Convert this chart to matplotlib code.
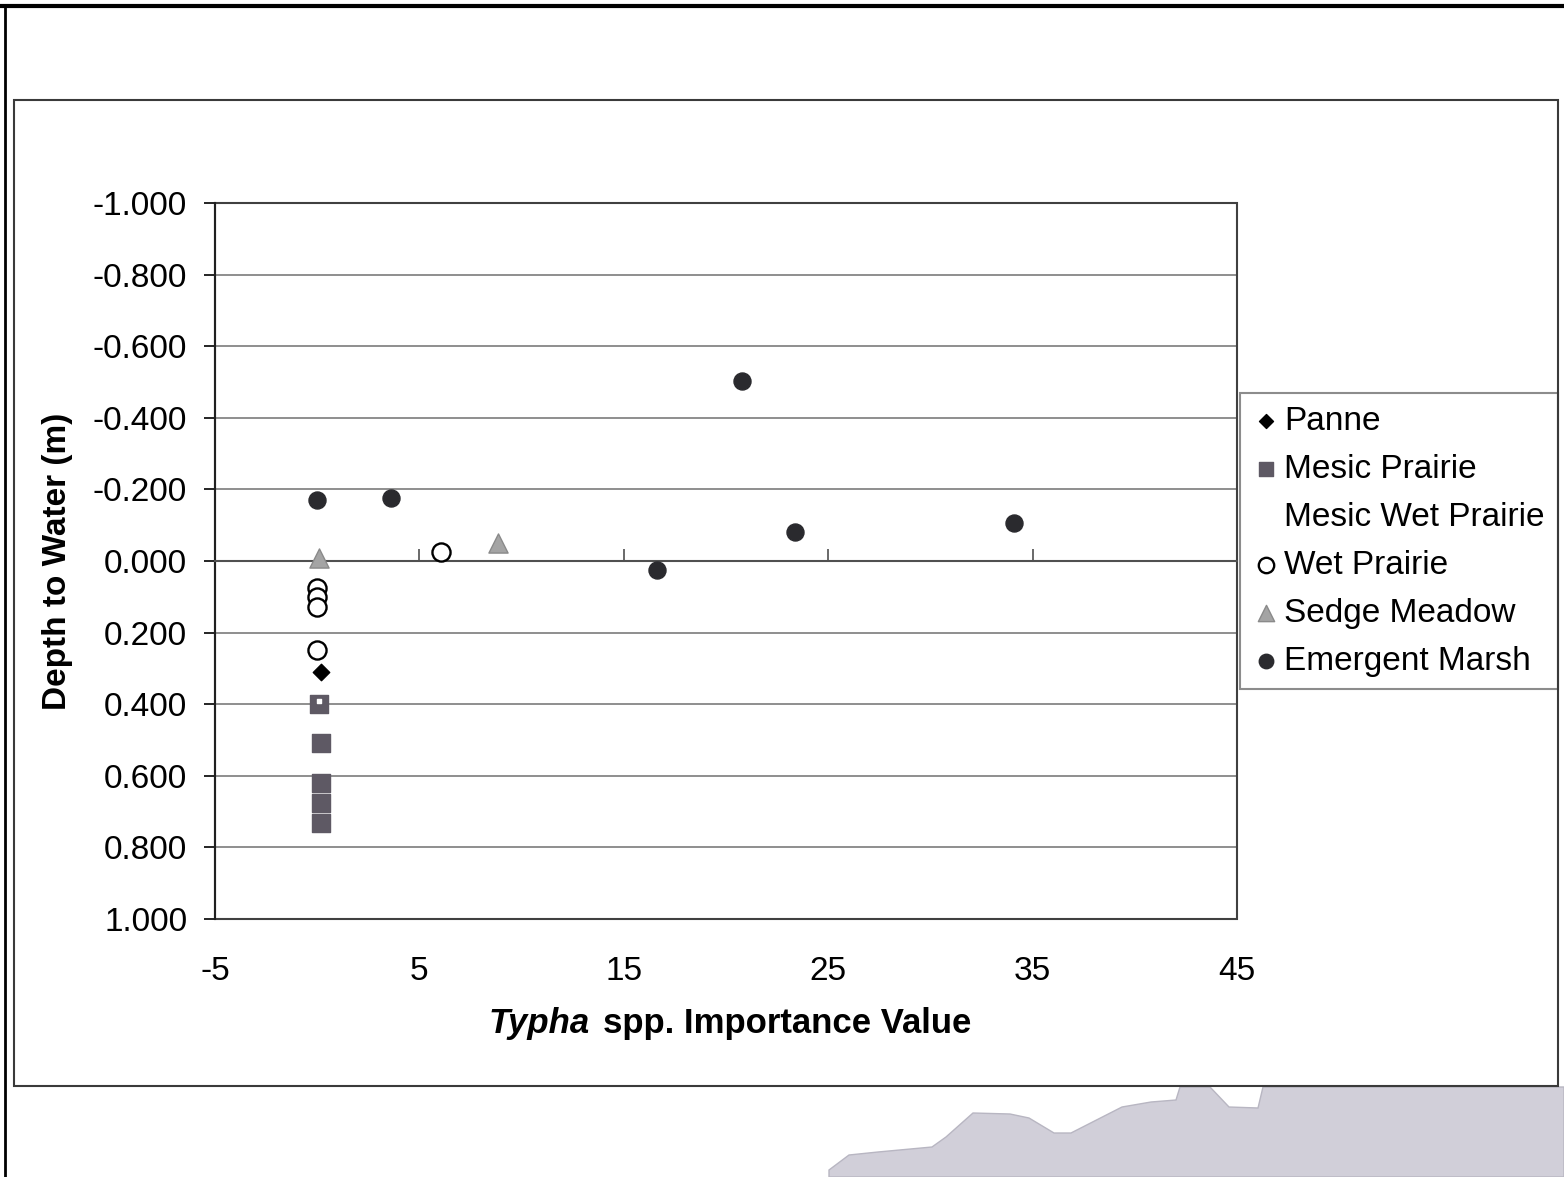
import matplotlib
matplotlib.use("Agg")
import matplotlib.pyplot as plt
from matplotlib.patches import Rectangle, Polygon
from matplotlib.lines import Line2D
from matplotlib.ticker import FuncFormatter, FixedLocator

plt.rcParams['font.family'] = ['Liberation Sans', 'DejaVu Sans']
plt.rcParams['axes.unicode_minus'] = False

# ---- data ----
panne_x = [0.2]
panne_y = [0.310]
mesic_x = [0.1, 0.2, 0.2, 0.2, 0.2]
mesic_y = [0.400, 0.508, 0.620, 0.676, 0.732]
mesic_wet_x = [0.1]
mesic_wet_y = [0.392]
wet_x = [0.0, 0.0, 0.0, 0.0, 6.06]
wet_y = [0.076, 0.101, 0.128, 0.249, -0.025]
sedge_x = [0.1, 8.85]
sedge_y = [-0.008, -0.050]
marsh_x = [0.0, 3.6, 20.8, 16.6, 23.4, 34.1]
marsh_y = [-0.170, -0.176, -0.503, 0.025, -0.081, -0.106]

x_ticks = [-5, 5, 15, 25, 35, 45]
y_ticks = [-1.0, -0.8, -0.6, -0.4, -0.2, 0.0, 0.2, 0.4, 0.6, 0.8, 1.0]

W, H = 1564, 1177
fig = plt.figure(figsize=(W / 100, H / 100), dpi=100)

def fx(px):
    return px / W

def fy(py):
    return 1 - py / H

# scan artifact at bottom right
art = [(829, 1177), (829, 1170), (849, 1155), (878, 1152), (932, 1147), (946, 1137),
       (973, 1113), (1010, 1114), (1029, 1118), (1054, 1133), (1071, 1133),
       (1122, 1107), (1151, 1102), (1176, 1100), (1180, 1087), (1210, 1087),
       (1229, 1107), (1258, 1108), (1263, 1087), (1564, 1087), (1564, 1177)]
fig.add_artist(Polygon([(fx(a), fy(b)) for a, b in art], closed=True,
                       facecolor='#d1cfd9', edgecolor='#b8b6c2', lw=1,
                       transform=fig.transFigure, zorder=0))

# outer frame lines
fig.add_artist(Line2D([0, 1], [fy(6), fy(6)], color='black', lw=3, transform=fig.transFigure))
fig.add_artist(Line2D([fx(5), fx(5)], [fy(6), 0], color='black', lw=2, transform=fig.transFigure))
# inner chart box
fig.add_artist(Rectangle((fx(14), fy(1086)), fx(1558) - fx(14), fy(100) - fy(1086),
                         fill=False, edgecolor='#3a3a3a', lw=1.5, transform=fig.transFigure))

ax = fig.add_axes([fx(215), fy(919), fx(1237) - fx(215), fy(203) - fy(919)])
ax.set_xlim(-5, 45)
ax.set_ylim(1.0, -1.0)

ax.yaxis.set_major_locator(FixedLocator(y_ticks))
ax.yaxis.set_major_formatter(FuncFormatter(lambda v, p: '{:.3f}'.format(v) if abs(v) > 1e-9 else '0.000'))
ax.tick_params(axis='y', direction='out', length=8, width=1.2, pad=12, labelsize=24, colors='black')
ax.grid(axis='y', color='#8e8e8e', lw=1.4)
ax.set_axisbelow(True)

for s in ['top', 'right']:
    ax.spines[s].set_visible(False)
ax.spines['left'].set_color('#202020')
ax.spines['left'].set_linewidth(1.5)
ax.spines['bottom'].set_position(('data', 0))
ax.spines['bottom'].set_color('#505050')
ax.spines['bottom'].set_linewidth(1.5)
ax.xaxis.set_major_locator(FixedLocator(x_ticks))
ax.tick_params(axis='x', direction='in', length=9, width=1.2, labelbottom=False, colors='#505050')

ax.add_patch(Rectangle((0, 0), 1, 1, transform=ax.transAxes, fill=False,
                       edgecolor='#404040', lw=1.5, clip_on=False, zorder=1))

# x tick labels at bottom
ax2 = ax.twiny()
ax2.set_xlim(-5, 45)
ax2.xaxis.set_ticks_position('bottom')
ax2.xaxis.set_major_locator(FixedLocator(x_ticks))
ax2.xaxis.set_major_formatter(FuncFormatter(lambda v, p: '{:d}'.format(int(round(v)))))
ax2.tick_params(axis='x', length=0, pad=27, labelsize=24)
for s in ax2.spines.values():
    s.set_visible(False)

ax.scatter(panne_x, panne_y, marker='D', s=70, color='black', zorder=3, label='Panne')
ax.scatter(mesic_x, mesic_y, marker='s', s=150, color='#5e5964', zorder=3, label='Mesic Prairie')
ax.scatter(mesic_wet_x, mesic_wet_y, marker='s', s=12, color='white', zorder=3, label='Mesic Wet Prairie')
ax.scatter(wet_x, wet_y, marker='o', s=170, facecolor='white', edgecolor='black', lw=1.7, zorder=3, label='Wet Prairie')
ax.scatter(sedge_x, sedge_y, marker='^', s=190, color='#a4a4a4', edgecolor='#8a8a8a', zorder=3, label='Sedge Meadow')
ax.scatter(marsh_x, marsh_y, marker='o', s=150, color='#2a2a2e', zorder=4, label='Emergent Marsh')

leg = ax.legend(loc='upper left', bbox_to_anchor=(fx(1240), fy(393)),
                bbox_transform=fig.transFigure, fontsize=24, frameon=True, fancybox=False,
                edgecolor='#707070', borderaxespad=0, labelspacing=0.51, handletextpad=0.15,
                handlelength=0.8, borderpad=0.38, markerscale=0.85, scatterpoints=1)
leg.get_frame().set_linewidth(1.5)
leg.set_zorder(10)

ax.set_ylabel('Depth to Water (m)', fontsize=24, fontweight='bold', labelpad=14)

fig.text(fx(590), fy(1024), 'Typha', fontsize=25, fontweight='bold', fontstyle='italic',
         ha='right', va='center')
fig.text(fx(603), fy(1024), 'spp. Importance Value', fontsize=25, fontweight='bold',
         ha='left', va='center')

fig.savefig('out.png', dpi=100)
